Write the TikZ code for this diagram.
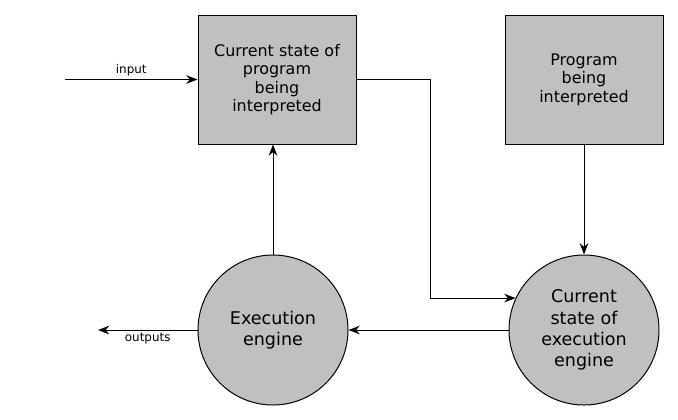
\documentclass[tikz,border=0pt]{standalone}
\usepackage{fontspec}
\setmainfont{DejaVu Sans}
\usetikzlibrary{arrows.meta}
\pgfdeclarelayer{bg}
\pgfsetlayers{bg,main}
\definecolor{boxgray}{HTML}{C0C0C0}
\tikzset{
        statebox/.style={draw, fill=boxgray, line width=0.75pt,
                minimum width=4.180208cm, minimum height=3.413125cm,
                align=center, font=\fontsize{12}{14}\selectfont},
        enginecirc/.style={draw, circle, fill=boxgray, line width=0.75pt,
                minimum size=3.968750cm, inner sep=0pt,
                align=center, font=\fontsize{13.2}{16}\selectfont},
        flow/.style={-{Stealth[length=8.5pt,width=6.5pt]}, line width=0.75pt},
        flowlabel/.style={font=\fontsize{9}{11}\selectfont, inner sep=2.2pt}
}

\begin{document}
\begin{tikzpicture}
        \useasboundingbox (-8.969271cm, -5.542969cm) rectangle (8.969271cm, 5.542969cm);
        \node (v0) [statebox] at (-1.640417cm, 3.439583cm) {Current state of\\program\\being\\interpreted};
        \node (v1) [statebox] at (6.482292cm, 3.439583cm) {Program\\being\\interpreted};
        \node (v2) [enginecirc] at (-1.746250cm, -3.188229cm) {Execution\\engine};
        \node (v3) [enginecirc] at (6.482292cm, -3.188229cm) {Current\\state of\\execution\\engine};
        \coordinate (vin) at (-7.249479cm, 3.439583cm);
        \coordinate (vout) at (-6.376458cm, -3.188229cm);
        \begin{pgfonlayer}{bg}
                \draw (vin) edge [flow] node [above, flowlabel] {input} (v0);
                \draw (v2.north) edge [flow] (v2.north |- v0.south);
                \draw [flow] (v0.east) -- ++(1.957917cm, 0cm) |- (v3.155);
                \draw (v1) edge [flow] (v3);
                \draw (v3) edge [flow] (v2);
                \draw (v2) edge [flow] node [below, flowlabel] {outputs} (vout);
        \end{pgfonlayer}
\end{tikzpicture}
\end{document}
